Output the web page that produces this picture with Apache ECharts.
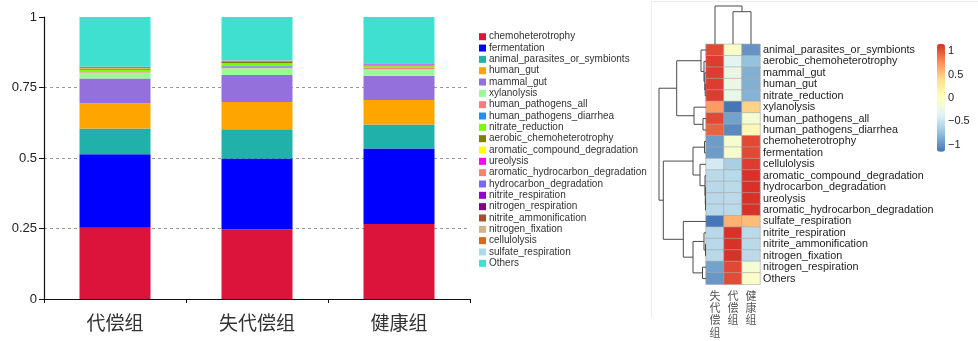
<!DOCTYPE html>
<html><head><meta charset="utf-8">
<script src="https://cdn.jsdelivr.net/npm/echarts@6/dist/echarts.min.js"></script>
<style>html,body{margin:0;padding:0;background:#fff}#c{width:978px;height:341px}</style>
</head><body><div id="c"></div>
<script>
// ---------- stacked bar data (groups: 代偿组, 失代偿组, 健康组) ----------
const groups = ['代偿组', '失代偿组', '健康组'];
const funcNames = ['chemoheterotrophy','fermentation','animal_parasites_or_symbionts','human_gut','mammal_gut','xylanolysis','human_pathogens_all','human_pathogens_diarrhea','nitrate_reduction','aerobic_chemoheterotrophy','aromatic_compound_degradation','ureolysis','aromatic_hydrocarbon_degradation','hydrocarbon_degradation','nitrite_respiration','nitrogen_respiration','nitrite_ammonification','nitrogen_fixation','cellulolysis','sulfate_respiration','Others'];
const funcColors = ['#DC143C','#0000FF','#20B2AA','#FFA500','#9370DB','#98FB98','#F08080','#1E90FF','#7CFC00','#808000','#FFFF00','#FF00FF','#FA8072','#7B68EE','#9400D3','#800080','#A0522D','#D2B48C','#D2691E','#ADD8E6','#40E0D0'];
const chemoheterotrophy = [0.253, 0.247, 0.266];
const fermentation = [0.260, 0.251, 0.268];
const animal_parasites_or_symbionts = [0.092, 0.104, 0.085];
const human_gut = [0.089, 0.097, 0.087];
const mammal_gut = [0.088, 0.095, 0.086];
const xylanolysis = [0.021, 0.024, 0.023];
const human_pathogens_all = [0.0040, 0.0065, 0.0048];
const human_pathogens_diarrhea = [0.0008, 0.0014, 0.0011];
const nitrate_reduction = [0.0055, 0.0100, 0.0045];
const aerobic_chemoheterotrophy = [0.0040, 0.0050, 0.0035];
const aromatic_compound_degradation = [0.0008, 0.0008, 0.0012];
const ureolysis = [0.0006, 0.0006, 0.0009];
const aromatic_hydrocarbon_degradation = [0.0006, 0.0006, 0.0009];
const hydrocarbon_degradation = [0.0006, 0.0006, 0.0009];
const nitrite_respiration = [0.0008, 0.0006, 0.0006];
const nitrogen_respiration = [0.0009, 0.0006, 0.0007];
const nitrite_ammonification = [0.0007, 0.0005, 0.0005];
const nitrogen_fixation = [0.0006, 0.0004, 0.0004];
const cellulolysis = [0.0005, 0.0005, 0.0009];
const sulfate_respiration = [0.0005, 0.0003, 0.0005];
const Others = [0.176, 0.154, 0.164];
const barValues = [chemoheterotrophy, fermentation, animal_parasites_or_symbionts, human_gut, mammal_gut, xylanolysis, human_pathogens_all, human_pathogens_diarrhea, nitrate_reduction, aerobic_chemoheterotrophy, aromatic_compound_degradation, ureolysis, aromatic_hydrocarbon_degradation, hydrocarbon_degradation, nitrite_respiration, nitrogen_respiration, nitrite_ammonification, nitrogen_fixation, cellulolysis, sulfate_respiration, Others];
const yTicks = [0, 0.25, 0.5, 0.75, 1];

// ---------- heatmap data (row z-scores) ----------
const hmCols = ['失代偿组', '代偿组', '健康组'];
const hmRows = ['animal_parasites_or_symbionts','aerobic_chemoheterotrophy','mammal_gut','human_gut','nitrate_reduction','xylanolysis','human_pathogens_all','human_pathogens_diarrhea','chemoheterotrophy','fermentation','cellulolysis','aromatic_compound_degradation','hydrocarbon_degradation','ureolysis','aromatic_hydrocarbon_degradation','sulfate_respiration','nitrite_respiration','nitrite_ammonification','nitrogen_fixation','nitrogen_respiration','Others'];
const zDecompensated = [1.05, 1.10, 1.10, 1.10, 1.10, 0.70, 1.05, 0.95, -0.95, -0.95, -0.45, -0.57, -0.58, -0.58, -0.58, -1.15, -0.58, -0.58, -0.58, -0.92, -0.98];
const zCompensated   = [-0.05, -0.35, -0.25, -0.25, -0.27, -1.15, -0.92, -1.05, -0.10, -0.10, -0.65, -0.58, -0.57, -0.57, -0.57, 0.60, 1.15, 1.15, 1.15, 1.05, 1.04];
const zHealthy       = [-1.00, -0.75, -0.85, -0.85, -0.83, 0.45, -0.13, 0.10, 1.05, 1.05, 1.10, 1.15, 1.15, 1.15, 1.15, 0.55, -0.57, -0.57, -0.57, -0.13, -0.06];
const colorbarTicks = [-1, -0.5, 0, 0.5, 1];
const heatColors = ['#4575B4','#91BFDB','#E0F3F8','#FFFFBF','#FEE090','#FC8D59','#D73027'];

// ---------- dendrograms (hclust style merges: negative = leaf, positive = earlier merge) ----------
const rowMerge = [[-4,-5],[-3,1],[-2,2],[-1,3],[-7,-8],[-6,5],[4,6],[-9,-10],[-14,-15],[-13,9],[-12,10],[-11,11],[8,12],[-18,-19],[-17,14],[-20,-21],[15,16],[-16,17],[13,18],[7,19]];
const rowHeight = [0.8, 1.2, 2, 5, 3, 12, 29.3, 1.5, 0.5, 0.7, 1, 6, 13, 0.5, 2, 3.5, 13, 22.7, 42.7, 47];
const colMerge = [[-2,-3],[-1,1]];
const colHeight = [32.6, 38.3];

function dendroSegments(merge, heights, swap) {
  const pos = [], hh = [], segs = [];
  const get = id => id < 0 ? [(-id - 1) + 0.5, 0] : [pos[id - 1], hh[id - 1]];
  merge.forEach((m, i) => {
    const [p1, h1] = get(m[0]); const [p2, h2] = get(m[1]); const H = heights[i];
    let pts = [[h1, p1], [H, p1], [H, p2], [h2, p2]];
    if (swap) pts = pts.map(p => [p[1], p[0]]);
    segs.push({ coords: pts });
    pos.push((p1 + p2) / 2); hh.push(H);
  });
  return segs;
}

const heatData = [];
[zDecompensated, zCompensated, zHealthy].forEach((col, ci) => col.forEach((v, ri) => heatData.push([ci, ri, v])));

const latin = 'Liberation Sans, Arial, sans-serif';
const cjk = 'Noto Sans CJK SC, sans-serif';

const barSeries = funcNames.map((n, i) => ({
  name: n, type: 'bar', stack: 'total', barWidth: 71, xAxisIndex: 0, yAxisIndex: 0,
  itemStyle: { color: funcColors[i] }, data: barValues[i], silent: true
}));

const option = {
  animation: false,
  backgroundColor: '#fff',
  grid: [
    { left: 44, top: 17, width: 426, height: 282 },
    { left: 706, top: 44.3, width: 54, height: 240 },
    { left: 656, top: 44.3, width: 50, height: 240 },
    { left: 706, top: 0, width: 54, height: 44.3 },
    { left: 937, top: 44, width: 8, height: 107.7 }
  ],
  xAxis: [
    { gridIndex: 0, type: 'category', data: groups, boundaryGap: true,
      axisLine: { lineStyle: { color: '#111', width: 1.2 } },
      axisTick: { show: true, length: 4, alignWithLabel: false, interval: 0, lineStyle: { color: '#111' } },
      axisLabel: { fontSize: 19, color: '#333', margin: 14, fontFamily: cjk, interval: 0 } },
    { gridIndex: 1, type: 'category', data: hmCols, axisLine: { show: false }, axisTick: { show: false },
      axisLabel: { interval: 0, fontSize: 11, lineHeight: 12.3, color: '#555', margin: 5, fontFamily: cjk,
        verticalAlign: 'top', formatter: s => s.split('').join('\n') } },
    { gridIndex: 2, type: 'value', min: 0, max: 50, inverse: true, show: false },
    { gridIndex: 3, type: 'value', min: 0, max: 3, show: false },
    { gridIndex: 4, type: 'value', min: 0, max: 1, show: false }
  ],
  yAxis: [
    { gridIndex: 0, type: 'value', min: 0, max: 1, interval: 0.25,
      axisLine: { show: true, lineStyle: { color: '#111', width: 1.2 } },
      axisTick: { show: true, length: 5, lineStyle: { color: '#111' } },
      axisLabel: { fontSize: 13, color: '#222', margin: 7, fontFamily: latin, customValues: yTicks,
        formatter: v => String(v) },
      splitLine: { show: true, showMinLine: false, showMaxLine: false, lineStyle: { color: '#999', type: [3, 3], width: 1 } } },
    { gridIndex: 1, type: 'category', data: hmRows, inverse: true, position: 'right',
      axisLine: { show: false }, axisTick: { show: false },
      axisLabel: { interval: 0, fontSize: 10.8, color: '#222', margin: 3, fontFamily: latin } },
    { gridIndex: 2, type: 'value', min: 0, max: 21, inverse: true, show: false },
    { gridIndex: 3, type: 'value', min: 0, max: 44.3, show: false },
    { gridIndex: 4, type: 'value', min: -1.155, max: 1.155, position: 'right',
      axisLine: { show: false }, axisTick: { show: false }, splitLine: { show: false },
      axisLabel: { customValues: colorbarTicks, fontSize: 11, color: '#222', margin: 3, fontFamily: latin,
        formatter: v => String(v).replace('-', '\u2212') } }
  ],
  legend: {
    data: funcNames, orient: 'vertical', left: 479, top: 31.7, padding: 0,
    itemWidth: 7, itemHeight: 7, itemGap: 1.33, icon: 'rect', selectedMode: false,
    textStyle: { fontSize: 10, lineHeight: 10, color: '#333', fontFamily: latin, padding: [0, 0, 0, -2] }
  },
  visualMap: {
    type: 'continuous', min: -1.155, max: 1.155, seriesIndex: funcNames.length, calculable: false,
    orient: 'vertical', left: 937, top: 44, itemWidth: 8, itemHeight: 107.7, padding: 0,
    inRange: { color: heatColors }, hoverLink: false, showLabel: false
  },
  series: barSeries.concat([
    { type: 'heatmap', xAxisIndex: 1, yAxisIndex: 1, data: heatData, silent: true,
      itemStyle: { borderColor: '#a8a8a8', borderWidth: 0.6 } },
    { type: 'lines', coordinateSystem: 'cartesian2d', xAxisIndex: 2, yAxisIndex: 2, polyline: true, silent: true,
      lineStyle: { color: '#4a4a4a', width: 1, opacity: 1 }, data: dendroSegments(rowMerge, rowHeight, false) },
    { type: 'lines', coordinateSystem: 'cartesian2d', xAxisIndex: 3, yAxisIndex: 3, polyline: true, silent: true,
      lineStyle: { color: '#4a4a4a', width: 1, opacity: 1 }, data: dendroSegments(colMerge, colHeight, true) },
    { type: 'scatter', xAxisIndex: 4, yAxisIndex: 4, data: [], silent: true }
  ]),
  graphic: [
    { type: 'line', shape: { x1: 651.5, y1: 1, x2: 651.5, y2: 318 }, style: { stroke: '#ececec', lineWidth: 1 }, silent: true },
    { type: 'line', shape: { x1: 651.5, y1: 1.5, x2: 978, y2: 1.5 }, style: { stroke: '#ececec', lineWidth: 1 }, silent: true }
  ]
};
const chart = echarts.init(document.getElementById('c'), null, { renderer: 'canvas' });
chart.setOption(option);
</script></body></html>
